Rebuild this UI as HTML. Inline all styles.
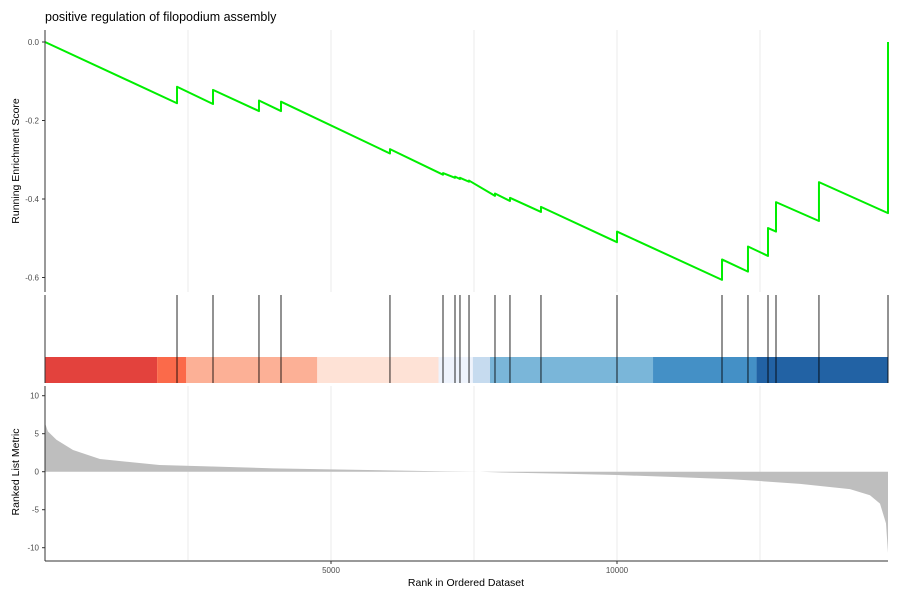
<!DOCTYPE html>
<html><head><meta charset="utf-8"><style>
body{margin:0;background:#fff;}
svg text{font-family:"Liberation Sans",sans-serif;}
</style></head><body>
<svg id="chart" width="900" height="600" xmlns="http://www.w3.org/2000/svg">
<text x="45" y="21" font-size="12.5" fill="#000">positive regulation of filopodium assembly</text>
<g id="grid"></g>
<g id="band"></g>
<g id="metric"></g>
<g id="hits"></g>
<g id="line"></g>
<g id="axes"></g>
<text transform="translate(19,161) rotate(-90)" text-anchor="middle" font-size="10.5">Running Enrichment Score</text>
<text transform="translate(19,472) rotate(-90)" text-anchor="middle" font-size="10.5">Ranked List Metric</text>
<text x="466" y="586" text-anchor="middle" font-size="10.5">Rank in Ordered Dataset</text>
</svg>
<script>
const N = 14738;
const hitRanks = [2308,2937,3741,4126,6031,6958,7168,7255,7413,7867,8129,8671,10000,11836,12290,12640,12780,13531,14738];
const scoreBefore = [-0.156,-0.158,-0.176,-0.176,-0.284,-0.338,-0.346,-0.349,-0.356,-0.392,-0.405,-0.433,-0.510,-0.606,-0.585,-0.545,-0.483,-0.456,-0.436];
const scoreAfter = [-0.114,-0.122,-0.149,-0.152,-0.273,-0.334,-0.343,-0.346,-0.353,-0.386,-0.397,-0.420,-0.483,-0.554,-0.521,-0.474,-0.408,-0.357,0.0];
const metricRanks = [0,50,200,490,960,2000,3000,4000,5000,6000,7000,7600,8000,9000,10000,11000,12000,12500,13200,14073,14423,14598,14703,14738];
const metricValues = [6.4,5.3,4.2,2.85,1.67,0.88,0.66,0.44,0.3,0.17,0.05,0.0,-0.1,-0.25,-0.44,-0.7,-1.0,-1.23,-1.6,-2.3,-3.1,-4.2,-6.8,-10.7];
const esTicks = [0.0,-0.2,-0.4,-0.6];
const esTickLabels = ["0.0","-0.2","-0.4","-0.6"];
const metricTicks = [10,5,0,-5,-10];
const xTicks = [5000,10000];
const gridRanks = [2500,5000,7500,10000,12500];
const bandStops = [0,1960,2470,4760,6880,7480,7780,10630,12440,14738];
const bandColors = ["#E3423D","#FB6A4A","#FCB096","#FEE2D6","#EEF3FC","#C6DBEF","#7AB6D9","#4490C6","#2262A4"];

const NS="http://www.w3.org/2000/svg";
const X0=45,X1=888;
const x=r=>X0+(r/N)*(X1-X0);
const yES=v=>42-v*392.5;
const yM=v=>471.7-v*7.6;
function mk(tag,attrs,parent){const e=document.createElementNS(NS,tag);for(const k in attrs)e.setAttribute(k,attrs[k]);parent.appendChild(e);return e;}
const grid=document.getElementById('grid'),band=document.getElementById('band'),metric=document.getElementById('metric'),hits=document.getElementById('hits'),line=document.getElementById('line'),axes=document.getElementById('axes');

gridRanks.forEach(r=>{
  const a=mk('line',{x1:x(r),x2:x(r),y1:30,y2:292,stroke:'#ebebeb','stroke-width':1},grid);
  
  
  const b=mk('line',{x1:x(r),x2:x(r),y1:386,y2:560,stroke:'#ebebeb','stroke-width':1},grid);
  
  
});

bandColors.forEach((c,i)=>{
  const r=mk('rect',{x:x(bandStops[i]),y:357,width:x(bandStops[i+1])-x(bandStops[i]),height:26,fill:c},band);
  
  
});

let d='M'+x(0)+','+yM(0);
metricRanks.forEach((r,i)=>{d+=' L'+x(r)+','+yM(metricValues[i]);});
d+=' L'+x(N)+','+yM(0)+' Z';
const mp=mk('path',{d:d,fill:'#bebebe'},metric);



hitRanks.forEach(r=>{
  const h=mk('line',{x1:x(r),x2:x(r),y1:295,y2:383,stroke:'#000','stroke-width':1,'stroke-opacity':0.85},hits);
  
  
});

let p='M'+x(0)+','+yES(0);
hitRanks.forEach((r,i)=>{p+=' L'+x(r)+','+yES(scoreBefore[i])+' L'+x(r)+','+yES(scoreAfter[i]);});
const lp=mk('path',{d:p,fill:'none',stroke:'#00ee00','stroke-width':2,'stroke-linejoin':'round'},line);



const ay=mk('line',{x1:45,x2:45,y1:30,y2:292,stroke:'#333','stroke-width':1},axes);


const ay2=mk('line',{x1:45,x2:45,y1:386,y2:561,stroke:'#333','stroke-width':1},axes);


const ab=mk('line',{x1:45,x2:45,y1:295,y2:383,stroke:'#333','stroke-width':1},axes);


const ax=mk('line',{x1:45,x2:888,y1:561,y2:561,stroke:'#333','stroke-width':1},axes);


esTicks.forEach((v,i)=>{
  const t=mk('line',{x1:42,x2:45,y1:yES(v),y2:yES(v),stroke:'#333'},axes);
  
  
  const l=mk('text',{x:39,y:yES(v)+3,'text-anchor':'end','font-size':8,fill:'#4d4d4d'},axes);
  l.textContent=esTickLabels[i];
  
  
});
metricTicks.forEach(v=>{
  const t=mk('line',{x1:42,x2:45,y1:yM(v),y2:yM(v),stroke:'#333'},axes);
  
  
  const l=mk('text',{x:39,y:yM(v)+3,'text-anchor':'end','font-size':8,fill:'#4d4d4d'},axes);
  l.textContent=String(v);
  
  
});
xTicks.forEach(v=>{
  const t=mk('line',{x1:x(v),x2:x(v),y1:561,y2:564,stroke:'#333'},axes);
  
  
  const l=mk('text',{x:x(v),y:573,'text-anchor':'middle','font-size':8,fill:'#4d4d4d'},axes);
  l.textContent=String(v);
  
  
});
</script>
</body></html>
